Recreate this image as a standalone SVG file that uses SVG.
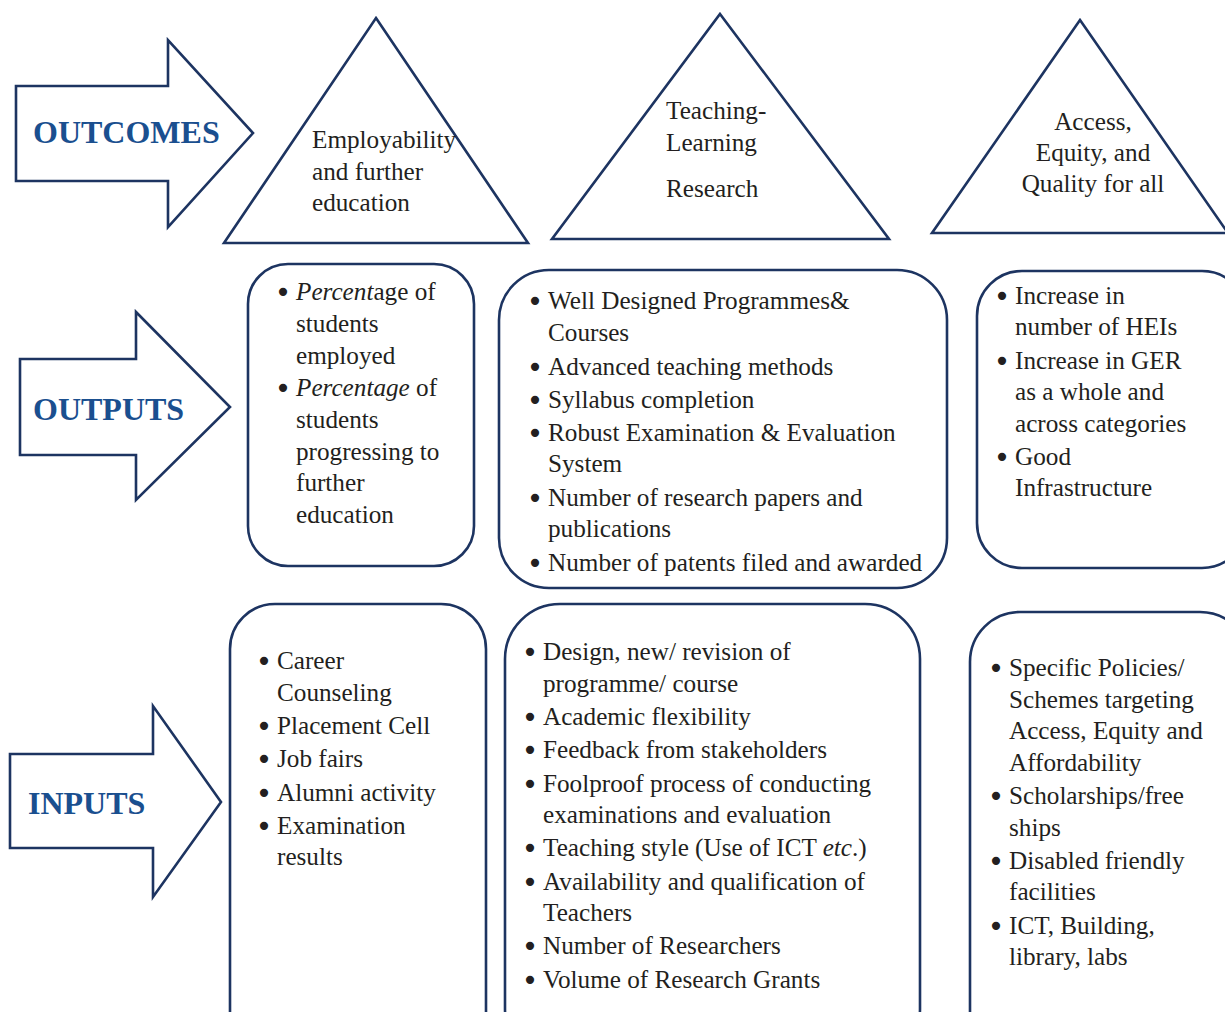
<svg xmlns="http://www.w3.org/2000/svg" width="1225" height="1012" viewBox="0 0 1225 1012">
<style>
.sh{fill:#fff;stroke:#1d3461;stroke-width:2.6;stroke-linejoin:miter}
.t{font-family:"Liberation Serif","Times New Roman",serif;font-size:25.2px;fill:#231f20}
.b{font-family:"DejaVu Sans",sans-serif;font-size:28px;fill:#231f20;text-anchor:middle}
.lbl{font-family:"Liberation Serif","Times New Roman",serif;font-size:32px;font-weight:bold;fill:#1a4f8f}
.it{font-style:italic}
</style>
<rect width="1225" height="1012" fill="#fff"/>
<g id="connectors"></g>
<g id="arrow-outcomes">
<polygon class="sh" points="16,86 168,86 168,40 253,133 168,227 168,181 16,181"/>
<text class="lbl" x="33" y="143">OUTCOMES</text>
</g>
<g id="arrow-outputs">
<polygon class="sh" points="20,359 136,359 136,312 230,407 136,500 136,455 20,455"/>
<text class="lbl" x="33" y="420">OUTPUTS</text>
</g>
<g id="arrow-inputs">
<polygon class="sh" points="10,754 153,754 153,706 221,802 153,897 153,848 10,848"/>
<text class="lbl" x="28" y="814">INPUTS</text>
</g>
<g id="tri-employability">
<polygon class="sh" points="376,18 528,243 224,243"/>
<text class="t"><tspan x="312" y="148">Employability</tspan><tspan x="312" y="180">and further</tspan><tspan x="312" y="211">education</tspan></text>
</g>
<g id="tri-teaching">
<polygon class="sh" points="720,14 889,239 552,239"/>
<text class="t"><tspan x="666" y="119">Teaching-</tspan><tspan x="666" y="151">Learning</tspan><tspan x="666" y="197">Research</tspan></text>
</g>
<g id="tri-access">
<polygon class="sh" points="1080,20 1228,233 932,233"/>
<text class="t" text-anchor="middle"><tspan x="1093" y="130">Access,</tspan><tspan x="1093" y="161">Equity, and</tspan><tspan x="1093" y="192">Quality for all</tspan></text>
</g>
<g id="out-employability">
<rect class="sh" x="248" y="264" width="226" height="302" rx="40"/>
<text class="b"><tspan x="283" y="302">•</tspan><tspan x="283" y="398">•</tspan></text>
<text class="t"><tspan x="296" y="300"><tspan class="it">Percent</tspan>age of</tspan><tspan x="296" y="332">students</tspan><tspan x="296" y="364">employed</tspan><tspan x="296" y="396"><tspan class="it">Percentage</tspan> of</tspan><tspan x="296" y="428">students</tspan><tspan x="296" y="460">progressing to</tspan><tspan x="296" y="491">further</tspan><tspan x="296" y="523">education</tspan></text>
</g>
<g id="out-teaching">
<rect class="sh" x="499" y="270" width="448" height="318" rx="50"/>
<text class="b"><tspan x="535" y="311">•</tspan><tspan x="535" y="377">•</tspan><tspan x="535" y="410">•</tspan><tspan x="535" y="443">•</tspan><tspan x="535" y="508">•</tspan><tspan x="535" y="573">•</tspan></text>
<text class="t"><tspan x="548" y="309">Well Designed Programmes&amp;</tspan><tspan x="548" y="341">Courses</tspan><tspan x="548" y="375">Advanced teaching methods</tspan><tspan x="548" y="408">Syllabus completion</tspan><tspan x="548" y="441">Robust Examination &amp; Evaluation</tspan><tspan x="548" y="472">System</tspan><tspan x="548" y="506">Number of research papers and</tspan><tspan x="548" y="537">publications</tspan><tspan x="548" y="571">Number of patents filed and awarded</tspan></text>
</g>
<g id="out-access">
<rect class="sh" x="977" y="271" width="270" height="297" rx="45"/>
<text class="b"><tspan x="1002" y="306">•</tspan><tspan x="1002" y="371">•</tspan><tspan x="1002" y="467">•</tspan></text>
<text class="t"><tspan x="1015" y="304">Increase in</tspan><tspan x="1015" y="335">number of HEIs</tspan><tspan x="1015" y="369">Increase in GER</tspan><tspan x="1015" y="400">as a whole and</tspan><tspan x="1015" y="432">across categories</tspan><tspan x="1015" y="465">Good</tspan><tspan x="1015" y="496">Infrastructure</tspan></text>
</g>
<g id="in-employability">
<rect class="sh" x="230" y="604" width="256" height="460" rx="45"/>
<text class="b"><tspan x="264" y="671">•</tspan><tspan x="264" y="736">•</tspan><tspan x="264" y="769">•</tspan><tspan x="264" y="803">•</tspan><tspan x="264" y="836">•</tspan></text>
<text class="t"><tspan x="277" y="669">Career</tspan><tspan x="277" y="701">Counseling</tspan><tspan x="277" y="734">Placement Cell</tspan><tspan x="277" y="767">Job fairs</tspan><tspan x="277" y="801">Alumni activity</tspan><tspan x="277" y="834">Examination</tspan><tspan x="277" y="865">results</tspan></text>
</g>
<g id="in-teaching">
<rect class="sh" x="505" y="604" width="415" height="460" rx="55"/>
<text class="b"><tspan x="530" y="662">•</tspan><tspan x="530" y="727">•</tspan><tspan x="530" y="760">•</tspan><tspan x="530" y="794">•</tspan><tspan x="530" y="858">•</tspan><tspan x="530" y="892">•</tspan><tspan x="530" y="956">•</tspan><tspan x="530" y="990">•</tspan></text>
<text class="t"><tspan x="543" y="660">Design, new/ revision of</tspan><tspan x="543" y="692">programme/ course</tspan><tspan x="543" y="725">Academic flexibility</tspan><tspan x="543" y="758">Feedback from stakeholders</tspan><tspan x="543" y="792">Foolproof process of conducting</tspan><tspan x="543" y="823">examinations and evaluation</tspan><tspan x="543" y="856">Teaching style (Use of ICT <tspan class="it">etc</tspan>.)</tspan><tspan x="543" y="890">Availability and qualification of</tspan><tspan x="543" y="921">Teachers</tspan><tspan x="543" y="954">Number of Researchers</tspan><tspan x="543" y="988">Volume of Research Grants</tspan></text>
</g>
<g id="in-access">
<rect class="sh" x="970" y="612" width="280" height="460" rx="50"/>
<text class="b"><tspan x="996" y="678">•</tspan><tspan x="996" y="806">•</tspan><tspan x="996" y="871">•</tspan><tspan x="996" y="936">•</tspan></text>
<text class="t"><tspan x="1009" y="676">Specific Policies/</tspan><tspan x="1009" y="708">Schemes targeting</tspan><tspan x="1009" y="739">Access, Equity and</tspan><tspan x="1009" y="771">Affordability</tspan><tspan x="1009" y="804">Scholarships/free</tspan><tspan x="1009" y="836">ships</tspan><tspan x="1009" y="869">Disabled friendly</tspan><tspan x="1009" y="900">facilities</tspan><tspan x="1009" y="934">ICT, Building,</tspan><tspan x="1009" y="965">library, labs</tspan></text>
</g>
</svg>
